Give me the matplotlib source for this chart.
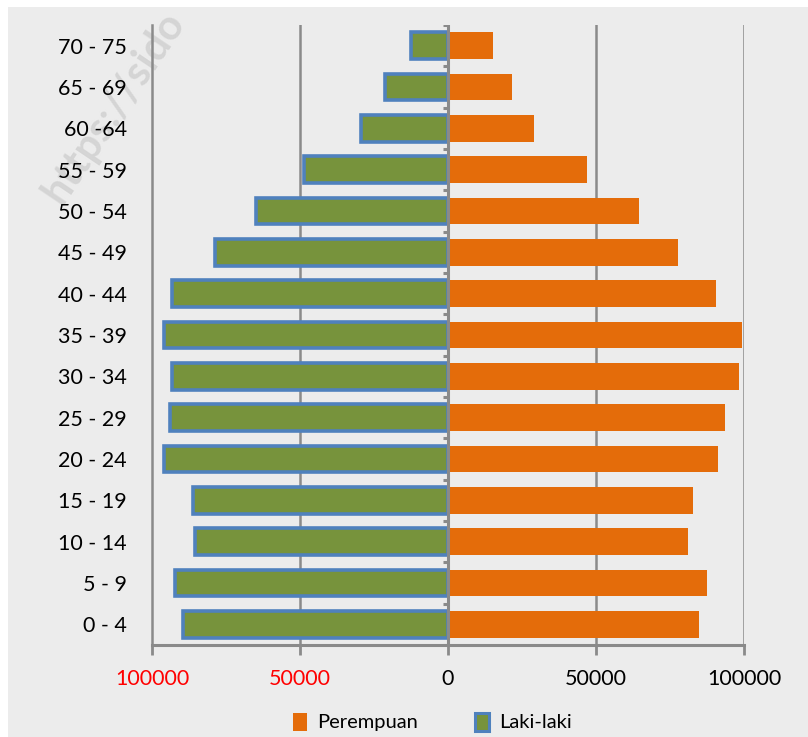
import matplotlib
matplotlib.use("Agg")
import matplotlib.pyplot as plt
import numpy as np
from matplotlib.patches import Rectangle, Patch

categories = ["0 - 4", "5 - 9", "10 - 14", "15 - 19", "20 - 24", "25 - 29", "30 - 34",
              "35 - 39", "40 - 44", "45 - 49", "50 - 54", "55 - 59", "60 -64", "65 - 69", "70 - 75"]
perempuan = [84700, 87500, 81000, 82700, 91200, 93600, 98300, 99300, 90500, 77600,
             64400, 47100, 29200, 21700, 15300]
laki_laki = [89500, 92200, 85400, 86100, 95900, 93900, 93200, 95900, 93200, 78600,
             64700, 48800, 29500, 21400, 12500]
xticks = [-100000, -50000, 0, 50000, 100000]
xticklabels = ["100000", "50000", "0", "50000", "100000"]

ORANGE = "#E46C0A"
GREEN = "#77933C"
BLUE = "#4F81BD"
GRID = "#8a8a8a"
FONT = "Lato"

fig = plt.figure(figsize=(8.08, 7.37), dpi=100)
fig.patch.set_facecolor("white")
fig.patches.append(Rectangle((8 / 808, 0), 1, 1 - 7 / 737, transform=fig.transFigure,
                             facecolor="#ececec", edgecolor="none", zorder=-10))
fig.text(0.045, 0.715, "https://sido", rotation=56, fontsize=30, color="#cfcfcf",
         family=FONT, fontweight="bold", ha="left", va="bottom", alpha=0.8, zorder=-5)

ax = fig.add_axes([152 / 808, 1 - 645 / 737, 592 / 808, 620 / 737])
ax.set_facecolor("none")

y = np.arange(len(categories))
h = 0.64
ax.barh(y, perempuan, height=h, color=ORANGE, edgecolor="none", zorder=3, label="Perempuan")
ax.barh(y, -np.array(laki_laki), height=h, color=GREEN, edgecolor=BLUE, linewidth=2.6,
        zorder=3, label="Laki-laki")

ax.set_xlim(-100000, 100000)
ax.set_ylim(-0.5, len(categories) - 0.5)

for xv in xticks:
    if xv not in (0, -100000):
        ax.axvline(xv, color=GRID, lw=1.8, zorder=1)
ax.axvline(0, color=GRID, lw=2.2, zorder=4)
bounds = np.arange(len(categories) + 1) - 0.5
ax.hlines(bounds, -1800, 0, colors=GRID, lw=2.2, zorder=4)

for s in ["top", "right"]:
    ax.spines[s].set_visible(False)
ax.spines["left"].set_color(GRID)
ax.spines["left"].set_linewidth(1.8)
ax.spines["bottom"].set_color(GRID)
ax.spines["bottom"].set_linewidth(2.2)

ax.set_yticks(y)
ax.set_yticklabels(categories, family=FONT, fontsize=15.5)
ax.tick_params(axis="y", length=0, pad=18)
ax.set_xticks(xticks)
ax.set_xticklabels(xticklabels, family=FONT, fontsize=15.5)
ax.tick_params(axis="x", length=7, width=2, color=GRID, pad=10)
for lbl, v in zip(ax.get_xticklabels(), xticks):
    lbl.set_color("red" if v < 0 else "black")

handles = [Patch(facecolor=ORANGE, edgecolor="none"),
           Patch(facecolor=GREEN, edgecolor=BLUE, linewidth=2.2)]
fig.legend(handles, ["Perempuan", "Laki-laki"], loc="center", bbox_to_anchor=(0.535, 1 - 722 / 737),
           ncol=2, frameon=False, prop={"family": FONT, "size": 14.5}, handlelength=0.7,
           handleheight=1.0, handletextpad=0.5, columnspacing=2.8)

fig.savefig("out.png", dpi=100)
